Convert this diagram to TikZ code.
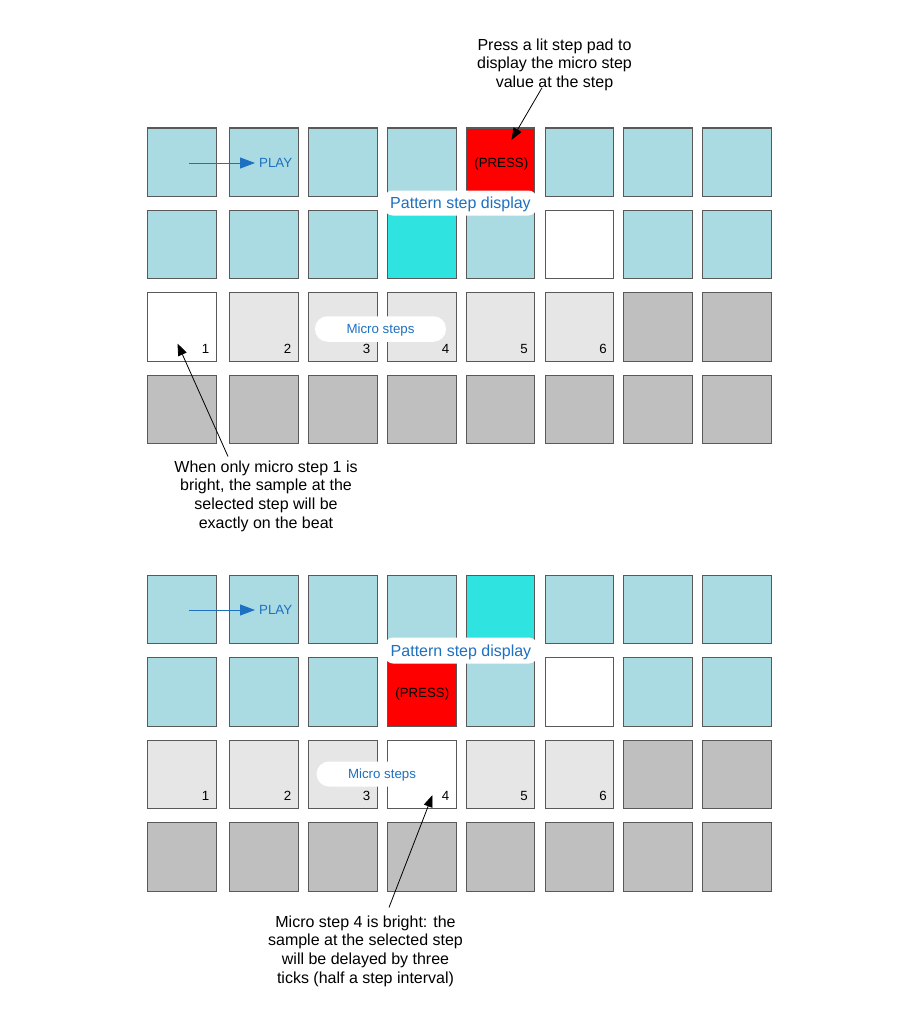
\documentclass[tikz,border=0pt]{standalone}
\usepackage{fontspec}
\setmainfont{Liberation Sans}
\usetikzlibrary{arrows.meta,calc}
\definecolor{lb}{RGB}{170,219,227}
\definecolor{cy}{RGB}{46,227,224}
\definecolor{rd}{RGB}{255,0,0}
\definecolor{lg}{RGB}{230,230,230}
\definecolor{dg}{RGB}{191,191,191}
\definecolor{wh}{RGB}{255,255,255}
\definecolor{tb}{RGB}{30,112,192}
\tikzset{
  pad/.style={draw=black!65, line width=1.1pt, minimum width=68.5pt, minimum height=68.5pt, inner sep=0pt, anchor=north west},
  small/.style={font=\fontsize{13.3}{16}\selectfont, inner sep=0pt, text height=9.6pt, text depth=0pt},
  num/.style={font=\fontsize{13.3}{16}\selectfont, inner sep=0pt, anchor=base east},
  big/.style={font=\fontsize{16}{18.6}\selectfont, align=center, inner sep=0pt},
  tag/.style={fill=white, rounded corners=8pt, text=tb, inner sep=0pt},
  note/.style={-{Triangle[length=12pt,width=9pt]}, line width=0.8pt, black},
  playarrow/.style={-{Triangle[length=15pt,width=11pt]}, line width=0.8pt, tb, shorten >=4pt},
}
\begin{document}
\begin{tikzpicture}[x=1pt,y=-1pt]
\useasboundingbox (0,0) rectangle (898,1027);
\def\xs{{147,229,308,387,465.5,544.5,623,702}}
% ---------- top grid ----------
\foreach \r/\y/\cols in {1/127.5/{lb,lb,lb,lb,rd,lb,lb,lb},2/209.5/{lb,lb,lb,cy,lb,wh,lb,lb},3/292/{wh,lg,lg,lg,lg,lg,dg,dg},4/374.5/{dg,dg,dg,dg,dg,dg,dg,dg}}{
  \foreach \col [count=\i] in \cols {
    \pgfmathsetmacro\x{\xs[\i-1]}
    \node[pad, fill=\col] (a-\r-\i) at (\x,\y) {};
  }
}
% ---------- bottom grid ----------
\foreach \r/\y/\cols in {1/574.5/{lb,lb,lb,lb,cy,lb,lb,lb},2/657/{lb,lb,lb,rd,lb,wh,lb,lb},3/739.5/{lg,lg,lg,wh,lg,lg,dg,dg},4/822/{dg,dg,dg,dg,dg,dg,dg,dg}}{
  \foreach \col [count=\i] in \cols {
    \pgfmathsetmacro\x{\xs[\i-1]}
    \node[pad, fill=\col] (b-\r-\i) at (\x,\y) {};
  }
}
% micro step numbers
\foreach \i in {1,...,6}{
  \node[num] (an\i) at ($(a-3-\i.north west)+(62.5,61)$) {\i};
  \node[num] (bn\i) at ($(b-3-\i.north west)+(62.5,61)$) {\i};
}
% PRESS labels
\node[small] (apress) at ($(a-1-5.center)+(1,0.5)$) {(PRESS)};
\node[small] (bpress) at ($(b-2-4.center)+(0.5,0.5)$) {(PRESS)};
% PLAY arrows
\coordinate (aplay0) at (189,163);
\node[small, text=tb, anchor=west] (aplay) at (259,163) {PLAY};
\draw[playarrow] (aplay0) -- (aplay.west);
\coordinate (bplay0) at (189,610);
\node[small, text=tb, anchor=west] (bplay) at (259,610) {PLAY};
\draw[playarrow] (bplay0) -- (bplay.west);
% Pattern step display tags
\node[tag, minimum width=152pt, minimum height=25pt, font=\fontsize{16}{19}\selectfont, text height=11.5pt, text depth=0pt] (apat) at (460.5,203) {Pattern step display};
\node[tag, minimum width=152pt, minimum height=26pt, font=\fontsize{16}{19}\selectfont, text height=11.5pt, text depth=0pt] (bpat) at (461,650.5) {Pattern step display};
% Micro steps tags
\node[tag, rounded corners=12.5pt, minimum width=131pt, minimum height=25.5pt, small, text=tb] (amic) at (380.5,329) {Micro steps};
\node[tag, rounded corners=12.5pt, minimum width=134pt, minimum height=25pt, small, text=tb] (bmic) at (383.5,774) {\hspace*{-3pt}Micro steps};
% annotations
\node[big] (t1) at (554.5,64.5) {Press a lit step pad to\\display the micro step\\value at the step};
\coordinate (t1tip) at (511.5,140);
\draw[note] ($(t1.south)+(-12.5,-3)$) -- (t1tip);
\node[big] (t2) at (266,496) {When only micro step 1 is\\bright, the sample at the\\selected step will be\\exactly on the beat};
\coordinate (t2tip) at (177.5,343.5);
\draw[note] ($(t2.north)+(-38,-4)$) -- (t2tip);
\node[big] (t3) at (365.5,951) {Micro step 4 is bright: the\\sample at the selected step\\will be delayed by three\\ticks (half a step interval)};
\coordinate (t3tip) at (432.5,795);
\draw[note] ($(t3.north)+(23.5,-8)$) -- (t3tip);
\end{tikzpicture}
\end{document}
